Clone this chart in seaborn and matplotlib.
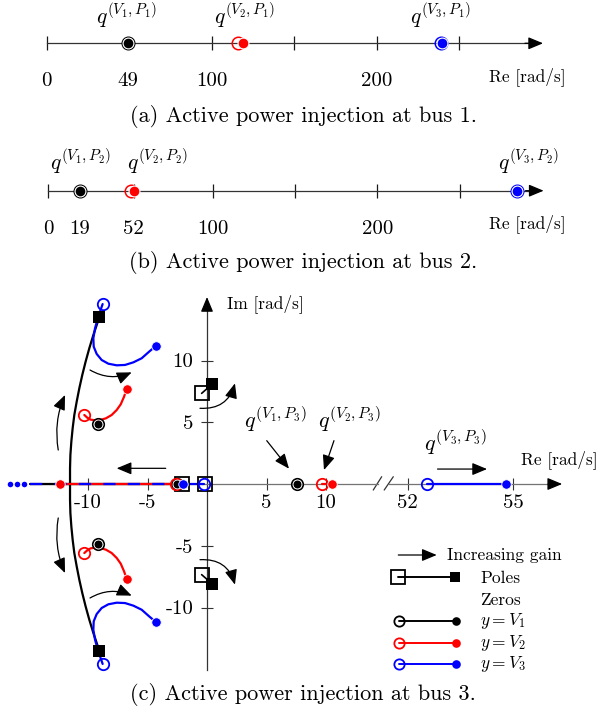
import numpy as np
import pandas as pd
import seaborn as sns
import matplotlib.pyplot as plt

W, H = 601, 717

# (a) active power at bus 1: zeros of y = V1, V2, V3 (gain 0 -> max gain)
a_start = [49, 116, 239]
a_end = [49, 119, 240]
a_ticks = [0, 100, 150, 200, 250]
a_labels = [0, 49, 100, 200]

# (b) active power at bus 2
b_start = [19, 50, 285]
b_end = [19, 52, 285]
b_ticks = [0, 52, 100, 150, 200, 250]
b_labels = [0, 19, 52, 100, 200]

colors = ["black", "red", "blue"]

# (c) active power at bus 3 - upper half of complex loci (lower half = conjugate)
blue_re = [-8.77, -8.99, -9.22, -9.41, -9.55, -9.52, -9.27, -8.85, -8.29, -7.59,
           -6.89, -6.19, -5.49, -4.87, -4.31]
blue_im = [14.57, 13.95, 13.28, 12.60, 11.80, 11.12, 10.53, 10.04, 9.74, 9.61,
           9.64, 9.85, 10.18, 10.71, 11.17]
red_re = [-10.31, -10.06, -9.78, -9.41, -8.99, -8.49, -8.01, -7.59, -7.25, -6.97, -6.75]
red_im = [5.59, 5.37, 5.21, 5.16, 5.18, 5.32, 5.59, 5.99, 6.45, 7.07, 7.69]
black_re = [-9.05, -9.27, -9.55, -9.89, -10.20, -10.48, -10.73, -10.95, -11.15,
            -11.29, -11.40, -11.48, -11.51, -11.51]
black_im = [13.50, 12.87, 12.06, 10.99, 9.91, 8.83, 7.75, 6.67, 5.59, 4.51, 3.43,
            2.35, 1.27, 0.0]
v1_zero = (-9.13, 4.83)
im_pole_start = (-0.45, 7.34)
im_pole_end = (0.45, 8.10)

# (c) real axis
real_pole_start = [-2.1, -0.2]
v1_real = [-2.5, 7.6]
v2_real_start = [-2.6, 9.65]
v2_real_end = [-12.35, 10.5]
v3_real_start = [-0.25]
v3_real_end = [-2.0]
v3_far = [52.55, 54.8]
black_axis_seg = [-14.9, -2.1]
red_axis_seg = [-12.35, -2.6]
blue_axis_seg = [-14.9, -2.0]
dots_x = [-16.55, -15.97, -15.38]
c_xticks = [-10, -5, 5, 10]
c_yticks = [-10, -5, 5, 10]
c_far_ticks = [52, 55]

sns.set_theme(style="white")
plt.rcParams["font.family"] = ["cmr10"]
plt.rcParams["mathtext.fontset"] = "cm"
plt.rcParams["axes.unicode_minus"] = False
plt.rcParams["axes.formatter.use_mathtext"] = True
plt.rcParams["text.color"] = "black"
plt.rcParams["xtick.color"] = "black"
plt.rcParams["ytick.color"] = "black"

fig = plt.figure(figsize=(W / 100, H / 100), dpi=100)


def box(x0, y0, x1, y1):
    return [x0 / W, 1 - y1 / H, (x1 - x0) / W, (y1 - y0) / H]


def label(x, y, s, size=12.5, **kw):
    fig.text(x / W, 1 - y / H, s, fontsize=size, va="center", **kw)


def arrow(ax, p0, p1, rad=0.0, lw=0.9):
    ax.annotate("", xy=p1, xytext=p0,
                arrowprops=dict(arrowstyle="-|>,head_length=0.6,head_width=0.25",
                                connectionstyle=f"arc3,rad={rad}", color="black",
                                lw=lw, shrinkA=0, shrinkB=0, mutation_scale=15))


def hollow(ax, x, y, c, ms=8.2, mew=1.3, marker="o"):
    ax.plot(x, y, marker, ls="none", ms=ms, mfc="none", mec=c, mew=mew, zorder=4)


def filled(ax, x, y, c, ms=6.8, marker="o", mew=0.6):
    ax.plot(x, y, marker, ls="none", ms=ms, mfc=c, mec="white", mew=mew, zorder=5)


def number_line(top, bottom, axis_y, x0, scale, ticks, labels, start, end):
    ax = fig.add_axes(box(0, top, W, bottom))
    ax.set_xlim(-x0 / scale, (W - x0) / scale)
    ax.set_ylim(axis_y - bottom, axis_y - top)
    ax.patch.set_alpha(0)
    for s in ["top", "right", "left"]:
        ax.spines[s].set_visible(False)
    sp = ax.spines["bottom"]
    sp.set_position(("data", 0))
    sp.set_bounds(0, 296)
    sp.set_color("0.2")
    sp.set_linewidth(0.9)
    ax.set_yticks([])
    ax.xaxis.remove_overlapping_locs = False
    ax.set_xticks(ticks, minor=True)
    ax.set_xticks(labels)
    ax.set_xticklabels([str(v) for v in labels])
    ax.tick_params(axis="x", which="minor", bottom=True, direction="inout",
                   length=10, width=0.9, color="0.1")
    ax.tick_params(axis="x", which="major", bottom=True, length=0, pad=21, labelsize=15)
    arrow(ax, (290, 0), (301, 0))
    for xs, xe, c in zip(start, end, colors):
        hollow(ax, xs, 0, c, ms=9.0, mew=1.1)
        filled(ax, xe, 0, c, ms=7.8, mew=0.8)
    return ax


# ---- (a) ----
ax_a = number_line(0, 130, 43.3, 46.7, 1.649, a_ticks, a_labels, a_start, a_end)
label(127, 16, r"$q^{(V_1,P_1)}$", size=15.5, ha="center")
label(245, 16, r"$q^{(V_2,P_1)}$", size=15.5, ha="center")
label(441, 16, r"$q^{(V_3,P_1)}$", size=15.5, ha="center")
label(566, 77, "Re [rad/s]", ha="right")
label(303, 117, "(a) Active power injection at bus 1.", size=16, ha="center")

# ---- (b) ----
ax_b = number_line(140, 280, 190.7, 48.3, 1.6456, b_ticks, b_labels, b_start, b_end)
label(81, 162, r"$q^{(V_1,P_2)}$", size=15.5, ha="center")
label(158, 162, r"$q^{(V_2,P_2)}$", size=15.5, ha="center")
label(529, 162, r"$q^{(V_3,P_2)}$", size=15.5, ha="center")
label(566, 224, "Re [rad/s]", ha="right")
label(303, 263, "(b) Active power injection at bus 2.", size=16, ha="center")

# ---- (c) ----
ylim_c = ((484 - 675) / 12.35, (484 - 285) / 12.35)
axl = fig.add_axes(box(0, 285, 383, 675))
axl.set_xlim(-207 / 11.9, 176 / 11.9)
axl.set_ylim(*ylim_c)
axr = fig.add_axes(box(383, 285, 601, 675))
axr.set_xlim(52 + (383 - 407.7) / 35.1, 52 + (601 - 407.7) / 35.1)
axr.set_ylim(*ylim_c)
for ax in (axl, axr):
    ax.patch.set_alpha(0)
    for s in ["top", "right"]:
        ax.spines[s].set_visible(False)
    ax.spines["bottom"].set_position(("data", 0))
    ax.spines["bottom"].set_color("0.45")
    ax.spines["bottom"].set_linewidth(0.9)
    ax.tick_params(axis="x", bottom=True, direction="inout", length=8.6, width=0.8,
                   color="0.2", labelsize=15, pad=3)

axl.spines["left"].set_position(("data", 0))
axl.spines["left"].set_bounds(-15.06, 14.6)
axl.spines["left"].set_color("0.2")
axl.spines["left"].set_linewidth(0.9)
axl.spines["bottom"].set_bounds(-14.9, 14.37)
axl.set_xticks(c_xticks)
axl.set_xticklabels([str(v) for v in c_xticks])
axl.set_yticks(c_yticks)
axl.set_yticklabels([str(v) for v in c_yticks])
axl.tick_params(axis="y", left=True, direction="inout", length=8.6, width=0.8,
                color="0.2", labelsize=15, pad=5.5)
arrow(axl, (0, 14.5), (0, 15.14))

axr.spines["left"].set_visible(False)
axr.spines["bottom"].set_bounds(51.47, 56.2)
axr.set_yticks([])
axr.set_xticks(c_far_ticks)
axr.set_xticklabels([str(v) for v in c_far_ticks])
arrow(axr, (56.0, 0), (56.4, 0))

# axis break marks
axl.plot([13.97, 14.68], [-0.49, 0.59], color="0.2", lw=0.9)
axr.plot([51.33, 51.59], [-0.49, 0.59], color="0.2", lw=0.9)

# complex loci, both halves
for sign in (1, -1):
    curves = pd.concat([
        pd.DataFrame({"re": blue_re, "im": np.array(blue_im) * sign, "c": "blue"}),
        pd.DataFrame({"re": red_re, "im": np.array(red_im) * sign, "c": "red"}),
        pd.DataFrame({"re": black_re, "im": np.array(black_im) * sign, "c": "black"}),
    ])
    for c, d in curves.groupby("c"):
        sns.lineplot(data=d, x="re", y="im", sort=False, estimator=None, color=c,
                     lw=1.6, ax=axl, legend=False, zorder=3)
    hollow(axl, blue_re[0], blue_im[0] * sign, "blue")
    filled(axl, blue_re[-1], blue_im[-1] * sign, "blue")
    hollow(axl, red_re[0], red_im[0] * sign, "red")
    filled(axl, red_re[-1], red_im[-1] * sign, "red")
    filled(axl, black_re[0], black_im[0] * sign, "black", ms=9.0, marker="s", mew=0)
    hollow(axl, v1_zero[0], v1_zero[1] * sign, "black")
    filled(axl, v1_zero[0], v1_zero[1] * sign, "black", ms=6.4)
    axl.plot([im_pole_start[0], im_pole_end[0]],
             [im_pole_start[1] * sign, im_pole_end[1] * sign], color="black", lw=1.2,
             zorder=3)
    hollow(axl, im_pole_start[0], im_pole_start[1] * sign, "black", ms=10, marker="s")
    filled(axl, im_pole_end[0], im_pole_end[1] * sign, "black", ms=9.2, marker="s", mew=0)

    arrow(axl, (-12.50, 2.75 * sign), (-11.93, 7.21 * sign), rad=-0.15 * sign)
    arrow(axl, (-9.83, 9.23 * sign), (-6.33, 9.04 * sign), rad=0.25 * sign)
    arrow(axl, (-0.59, 6.13 * sign), (2.35, 8.15 * sign), rad=0.4 * sign)
axl.set_xlabel("")
axl.set_ylabel("")

# real-axis loci
axl.plot(black_axis_seg, [0, 0], color="black", lw=1.6, zorder=3)
axl.plot(red_axis_seg, [0, 0], color="red", lw=1.6, zorder=3)
axl.plot(blue_axis_seg, [0, 0], color="blue", lw=1.6, ls=(0, (5.5, 5.5)), zorder=3)
axl.plot([v3_real_end[0], v3_real_start[0]], [0, 0], color="blue", lw=1.6, zorder=3)
axl.plot([v2_real_start[1], v2_real_end[1]], [0, 0], color="red", lw=1.6, zorder=3)
sns.scatterplot(x=dots_x, y=[0] * 3, color="blue", s=16, linewidth=0, ax=axl,
                legend=False, zorder=4)
hollow(axl, real_pole_start, [0, 0], "black", ms=10, marker="s")
hollow(axl, v1_real, [0, 0], "black")
filled(axl, v1_real, [0, 0], "black", ms=6.4)
hollow(axl, v2_real_start, [0, 0], "red")
filled(axl, v2_real_end, [0, 0], "red")
hollow(axl, v3_real_start, [0], "blue")
filled(axl, v3_real_end, [0], "blue")
arrow(axl, (-3.47, 1.27), (-7.59, 1.27))

axr.plot(v3_far, [0, 0], color="blue", lw=1.6, zorder=3)
hollow(axr, v3_far[0], 0, "blue")
filled(axr, v3_far[1], 0, "blue")

# annotations
label(275, 420, r"$q^{(V_1,P_3)}$", size=16, ha="center")
label(349, 420, r"$q^{(V_2,P_3)}$", size=16, ha="center")
label(455, 443, r"$q^{(V_3,P_3)}$", size=16, ha="center")
arrow(axl, (5.02, 3.51), (6.89, 1.24))
arrow(axl, (10.67, 3.51), (9.83, 1.13))
arrow(axr, (52.85, 1.21), (54.26, 1.21))
label(227, 304, "Im [rad/s]", ha="left")
label(598, 460, "Re [rad/s]", ha="right")

# legend (drawn in pixel coordinates)
axg = fig.add_axes(box(380, 540, 601, 675))
axg.set_xlim(380, 601)
axg.set_ylim(675, 540)
axg.axis("off")
arrow(axg, (398.3, 555), (436.7, 555))
label(446.7, 555, "Increasing gain")
axg.plot([398, 455], [577, 577], color="black", lw=1.4)
hollow(axg, 398, 577, "black", ms=9.5, marker="s")
filled(axg, 455, 577, "black", ms=7.4, marker="s", mew=0)
label(480, 578, "Poles")
label(480, 600, "Zeros")
for yy, c, s in zip([620.7, 643.3, 664], colors,
                    [r"$y = V_1$", r"$y = V_2$", r"$y = V_3$"]):
    axg.plot([399, 456], [yy, yy], color=c, lw=1.4)
    hollow(axg, 399, yy, c, ms=7.4)
    filled(axg, 456, yy, c, ms=6.2, mew=0)
    label(480, yy, s)

label(303, 695, "(c) Active power injection at bus 3.", size=16, ha="center")

fig.savefig("out.png", dpi=100)
